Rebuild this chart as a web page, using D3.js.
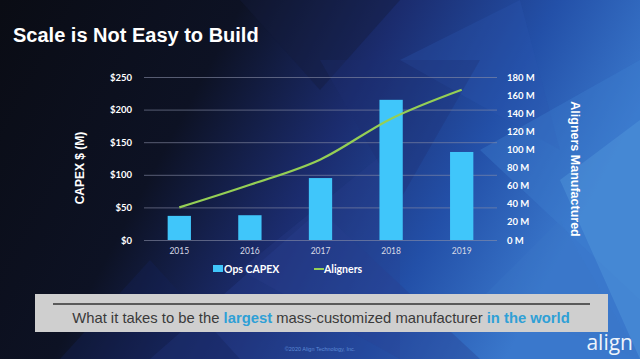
<!DOCTYPE html>
<html><head><meta charset="utf-8">
<script src="https://cdn.jsdelivr.net/npm/d3@7"></script>
<style>html,body{margin:0;padding:0;background:#0b0d16;}svg{display:block;}</style>
</head><body>
<svg id="c" width="640" height="359"></svg>
<script>
const years = ["2015","2016","2017","2018","2019"];
const opsCapex = [37, 38, 95, 215, 135];
const aligners = [36, 61, 89, 134, 166];
const leftTicks = [0, 50, 100, 150, 200, 250];
const rightTicks = [0, 20, 40, 60, 80, 100, 120, 140, 160, 180];

const svg = d3.select("#c");
const W = 640, H = 359;
const defs = svg.append("defs");
const bg = defs.append("linearGradient").attr("id","bg").attr("x1","0").attr("x2","1").attr("y1","0").attr("y2","0.3");
bg.append("stop").attr("offset","0").attr("stop-color","#0a0c14");
bg.append("stop").attr("offset","0.35").attr("stop-color","#0d1224");
bg.append("stop").attr("offset","0.58").attr("stop-color","#1b2c6e");
bg.append("stop").attr("offset","0.8").attr("stop-color","#2350a8");
bg.append("stop").attr("offset","1").attr("stop-color","#3a78cc");
svg.append("rect").attr("width",W).attr("height",H).attr("fill","url(#bg)");

// decorative triangles
const tris = [
  [[150,359],[320,210],[480,359],"#27408e",0.35],
  [[240,270],[400,140],[400,359],"#2a3f8f",0.25],
  [[400,60],[520,0],[560,150],"#2b55b0",0.3],
  [[480,150],[640,60],[640,300],"#3f82d2",0.35],
  [[560,180],[640,120],[640,359],"#5aa0e0",0.35],
  [[480,300],[560,220],[640,359],"#3b78c8",0.3],
  [[240,0],[400,0],[320,90],"#141c3c",0.4],
  [[320,60],[480,60],[400,200],"#1d2f72",0.3],
  [[60,359],[150,260],[240,359],"#142258",0.35]
];
svg.append("g").selectAll("polygon").data(tris).join("polygon")
  .attr("points", d => d.slice(0,3).map(p=>p.join(",")).join(" "))
  .attr("fill", d => d[3]).attr("opacity", d => d[4]);

// title
svg.append("text").attr("x",13).attr("y",42).text("Scale is Not Easy to Build")
  .attr("fill","#fff").attr("font-family","Liberation Sans, Arial").attr("font-weight","bold").attr("font-size",20);

const x0 = 144, x1 = 497, yTop = 77, yBot = 240;
const x = d3.scaleBand().domain(years).range([x0, x1]).paddingInner(0.67).paddingOuter(0.335);
const yL = d3.scaleLinear().domain([0,250]).range([yBot, yTop]);
const yR = d3.scaleLinear().domain([0,180]).range([yBot, yTop]);

// gridlines
svg.append("g").selectAll("line").data(leftTicks).join("line")
  .attr("x1",x0).attr("x2",x1).attr("y1",d=>yL(d)+0.5).attr("y2",d=>yL(d)+0.5)
  .attr("stroke","#8a8fa8").attr("stroke-width",0.8).attr("opacity",0.75);

const font = "Lato, 'Open Sans', sans-serif";
// left axis
const gL = svg.append("g").attr("transform",`translate(${x0},0)`)
  .call(d3.axisLeft(yL).tickValues(leftTicks).tickFormat(d=>"$"+d).tickSize(0).tickPadding(12));
gL.select(".domain").remove();
gL.selectAll("text").attr("fill","#fff").attr("font-family",font).attr("font-weight","bold").attr("font-size",9.5);

// right axis
const gR = svg.append("g").attr("transform",`translate(${x1},0)`)
  .call(d3.axisRight(yR).tickValues(rightTicks).tickFormat(d=>d+" M").tickSize(0).tickPadding(10));
gR.select(".domain").remove();
gR.selectAll("text").attr("fill","#fff").attr("font-family",font).attr("font-weight","bold").attr("font-size",9.5);

// x axis
const gX = svg.append("g").attr("transform",`translate(0,${yBot})`)
  .call(d3.axisBottom(x).tickSize(0).tickPadding(8));
gX.select(".domain").remove();
gX.selectAll("text").attr("fill","#d8dae6").attr("font-family",font).attr("font-size",8.5);

// bars
svg.append("g").selectAll("rect").data(years).join("rect")
  .attr("x",d=>x(d)).attr("width",x.bandwidth())
  .attr("y",(d,i)=>yL(opsCapex[i])).attr("height",(d,i)=>yBot-yL(opsCapex[i]))
  .attr("fill","#40c6fa");

// line
const line = d3.line().x((d,i)=>x(years[i])+x.bandwidth()/2).y(d=>yR(d)).curve(d3.curveMonotoneX);
svg.append("path").datum(aligners).attr("d",line).attr("fill","none")
  .attr("stroke","#95cf55").attr("stroke-width",2.2);

// axis titles
svg.append("text").attr("transform","translate(84,168) rotate(-90)").attr("text-anchor","middle")
  .text("CAPEX $ (M)").attr("fill","#fff").attr("font-family","Liberation Sans, Arial").attr("font-weight","bold").attr("font-size",12);
svg.append("text").attr("transform","translate(571,169) rotate(90)").attr("text-anchor","middle")
  .text("Aligners Manufactured").attr("fill","#fff").attr("font-family","Liberation Sans, Arial").attr("font-weight","bold").attr("font-size",12.5);

// legend
const lg = svg.append("g");
lg.append("rect").attr("x",213).attr("y",265).attr("width",10).attr("height",7).attr("fill","#40c6fa");
lg.append("text").attr("x",224).attr("y",273).text("Ops CAPEX").attr("fill","#fff").attr("font-family",font).attr("font-weight","bold").attr("font-size",10.5);
lg.append("line").attr("x1",314).attr("x2",324).attr("y1",269).attr("y2",269).attr("stroke","#95cf55").attr("stroke-width",2);
lg.append("text").attr("x",324).attr("y",273).text("Aligners").attr("fill","#fff").attr("font-family",font).attr("font-weight","bold").attr("font-size",10.5);

// banner
svg.append("rect").attr("x",35).attr("y",294).attr("width",573).attr("height",38).attr("fill","#cfcfcf");
svg.append("line").attr("x1",53).attr("x2",590).attr("y1",304).attr("y2",304).attr("stroke","#333").attr("stroke-width",1.5);
const bt = svg.append("text").attr("x",321).attr("y",323).attr("text-anchor","middle")
  .attr("font-family","Liberation Sans, Arial").attr("font-size",14.8).attr("fill","#3a3a3a");
bt.append("tspan").text("What it takes to be the ");
bt.append("tspan").text("largest").attr("fill","#2fa0d6").attr("font-weight","bold");
bt.append("tspan").text(" mass-customized manufacturer ");
bt.append("tspan").text("in the world").attr("fill","#2fa0d6").attr("font-weight","bold");

// footer
svg.append("text").attr("x",320).attr("y",351).attr("text-anchor","middle").text("©2020 Align Technology, Inc.")
  .attr("fill","#5d8bd6").attr("font-family","Liberation Sans, Arial").attr("font-size",5.5);
svg.append("text").attr("x",633).attr("y",350).attr("text-anchor","end").text("align")
  .attr("fill","#eef4fb").attr("font-family","'Open Sans', sans-serif").attr("font-size",21);
</script>
</body></html>
